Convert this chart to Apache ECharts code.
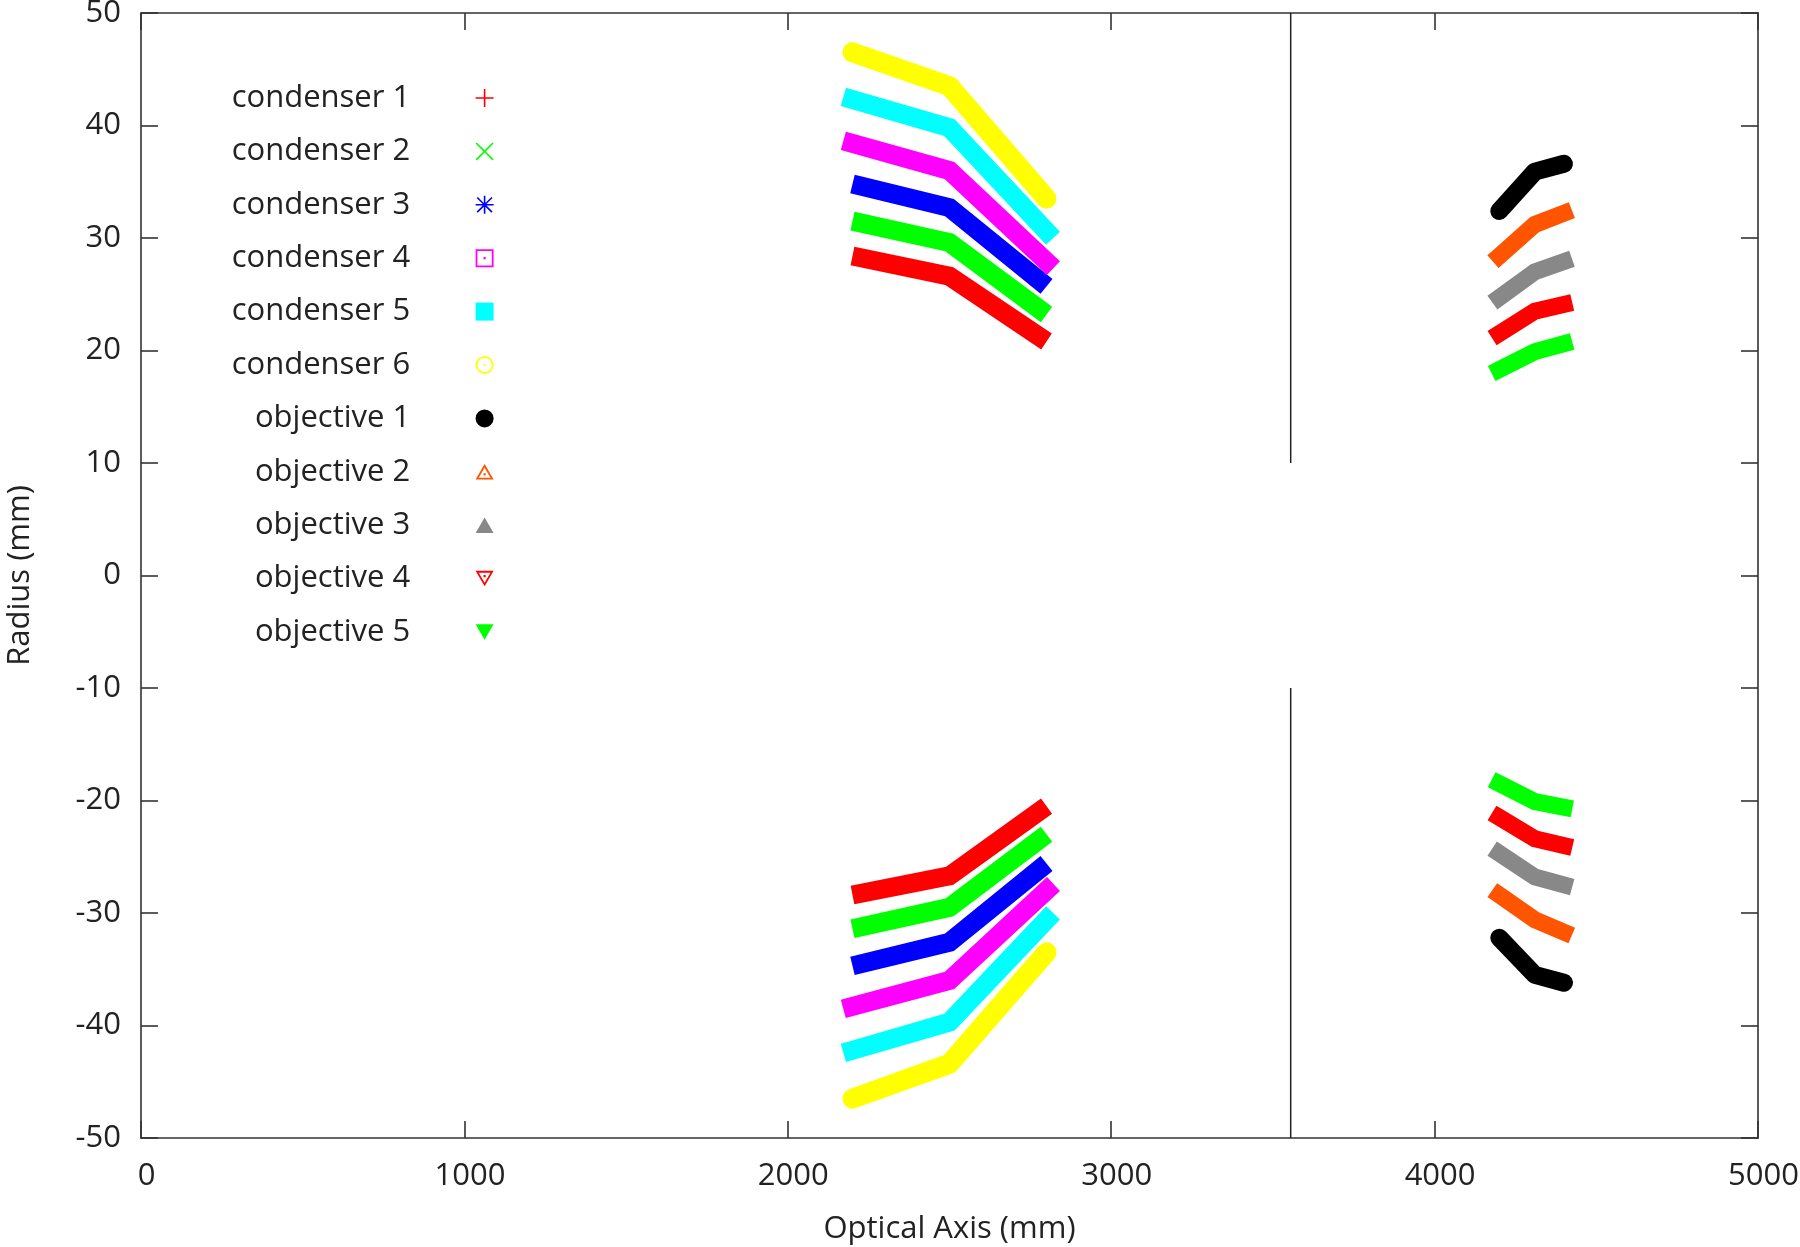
<!DOCTYPE html>
<html>
<head>
<meta charset="utf-8">
<script src="https://cdn.jsdelivr.net/npm/echarts@6/dist/echarts.min.js"></script>
<style>html,body{margin:0;padding:0;background:#fff}#c{width:1800px;height:1247px}</style>
</head>
<body>
<div id="c"></div>
<script>
// ---- data ----
const xCondenser = [2200, 2500, 2800];
const xObjective = [4200, 4310, 4400];

const condenser1Upper = [28.4, 26.6, 20.8];
const condenser1Lower = [-28.4, -26.7, -20.5];
const condenser2Upper = [31.5, 29.6, 23.2];
const condenser2Lower = [-31.4, -29.5, -23.0];
const condenser3Upper = [34.8, 32.7, 25.7];
const condenser3Lower = [-34.7, -32.6, -25.6];
const condenser4Upper = [38.4, 36.0, 27.9];
const condenser4Lower = [-38.3, -36.0, -28.0];
const condenser5Upper = [42.3, 39.8, 30.6];
const condenser5Lower = [-42.2, -39.7, -30.6];
const condenser6Upper = [46.5, 43.5, 33.5];
const condenser6Lower = [-46.5, -43.4, -33.5];

const objective1Upper = [32.4, 35.9, 36.6];
const objective1Lower = [-32.2, -35.5, -36.2];
const objective2Upper = [28.4, 31.2, 32.2];
const objective2Lower = [-28.4, -30.6, -31.7];
const objective3Upper = [24.7, 27.0, 27.9];
const objective3Lower = [-24.7, -26.8, -27.5];
const objective4Upper = [21.5, 23.5, 24.1];
const objective4Lower = [-21.5, -23.4, -24.0];
const objective5Upper = [18.3, 19.9, 20.6];
const objective5Lower = [-18.5, -20.1, -20.6];

// aperture stop (vertical line)
const stopX = [3555, 3555];
const stopUpperY = [50, 10];
const stopLowerY = [-10, -50];

const seriesNames = ['condenser 1','condenser 2','condenser 3','condenser 4','condenser 5','condenser 6',
  'objective 1','objective 2','objective 3','objective 4','objective 5'];
const xTicks = [0, 1000, 2000, 3000, 4000, 5000];
const yTicks = [-50, -40, -30, -20, -10, 0, 10, 20, 30, 40, 50];

// ---- styles ----
const FONT = 'Open Sans';
const FS = 31;
const colors = ['#ff0000','#00ff00','#0000ff','#ff00ff','#00ffff','#ffff00',
  '#000000','#ff5500','#888888','#ff0000','#00ff00'];
const caps = ['butt','butt','butt','square','square','round','round','square','square','square','square'];
const widths = [19,19,19,19,19,20,18,17,17,17,17];

const P = 'path://';
const micro = 'M0 -7L0.1 -7L0.1 -6.9ZM0 93L0.1 93L0.1 92.9Z';
const icons = [
  P + 'M45.5 0H54.5V45.5H100V54.5H54.5V100H45.5V54.5H0V45.5H45.5Z',
  P + 'M0 6.4L6.4 0L50 43.6L93.6 0L100 6.4L56.4 50L100 93.6L93.6 100L50 56.4L6.4 100L0 93.6L43.6 50Z',
  P + 'M45.5 0H54.5V45.5H100V54.5H54.5V100H45.5V54.5H0V45.5H45.5ZM6 12.4L12.4 6L50 43.6L87.6 6L94 12.4L56.4 50L94 87.6L87.6 94L50 56.4L12.4 94L6 87.6L43.6 50Z',
  P + 'M0 0H100V100H0ZM10 10V90H90V10ZM44 44H56V56H44Z',
  'rect',
  P + 'M0 50A50 50 0 0 1 100 50A50 50 0 0 1 0 50ZM10 50A40 40 0 0 0 90 50A40 40 0 0 0 10 50ZM44 50A6 6 0 0 1 56 50A6 6 0 0 1 44 50Z',
  'circle',
  P + 'M50 0L100 86L0 86ZM50 20L17.5 76L82.5 76ZM44 51H56V63H44Z' + micro,
  P + 'M50 0L100 86L0 86Z' + micro,
  P + 'M0 0L100 0L50 86ZM17.5 10L50 66L82.5 10ZM44 23H56V35H44Z' + micro,
  P + 'M0 0L100 0L50 86Z' + micro
];

const bands = [
  [xCondenser, condenser1Upper, condenser1Lower],
  [xCondenser, condenser2Upper, condenser2Lower],
  [xCondenser, condenser3Upper, condenser3Lower],
  [xCondenser, condenser4Upper, condenser4Lower],
  [xCondenser, condenser5Upper, condenser5Lower],
  [xCondenser, condenser6Upper, condenser6Lower],
  [xObjective, objective1Upper, objective1Lower],
  [xObjective, objective2Upper, objective2Lower],
  [xObjective, objective3Upper, objective3Lower],
  [xObjective, objective4Upper, objective4Lower],
  [xObjective, objective5Upper, objective5Lower]
];

function pairs(xs, ys) { return xs.map((x, i) => [x, ys[i]]); }

const series = [];
bands.forEach((b, i) => {
  [b[1], b[2]].forEach(ys => {
    series.push({
      type: 'line', name: seriesNames[i], data: pairs(b[0], ys),
      symbol: 'none', showSymbol: false, animation: false, silent: true,
      lineStyle: { color: colors[i], width: widths[i], cap: caps[i], join: caps[i] === 'round' ? 'round' : 'miter' },
      itemStyle: { color: colors[i] },
      z: 2 + i
    });
  });
});
[stopUpperY, stopLowerY].forEach(ys => {
  series.push({
    type: 'line', name: 'stop', data: pairs(stopX, ys), symbol: 'none', animation: false, silent: true,
    lineStyle: { color: '#222', width: 1.5 }, z: 1
  });
});

const axisColor = '#333';
const lineSt = { color: axisColor, width: 1.6 };
const fmt = v => String(v);
function xAx(pos, main) {
  return {
    type: 'value', position: pos, min: xTicks[0], max: xTicks[xTicks.length - 1], interval: 1000,
    axisLine: { show: true, onZero: false, lineStyle: lineSt },
    axisTick: { show: true, inside: true, length: 17, lineStyle: lineSt },
    axisLabel: { show: main, fontSize: FS, fontFamily: FONT, color: '#222', margin: 23, formatter: fmt, padding: [0, 0, 0, 11] },
    splitLine: { show: false },
    name: main ? 'Optical Axis (mm)' : '', nameLocation: 'middle', nameGap: 76,
    nameTextStyle: { fontSize: FS, fontFamily: FONT, color: '#222' }
  };
}
function yAx(pos, main) {
  return {
    type: 'value', position: pos, min: yTicks[0], max: yTicks[yTicks.length - 1], interval: 10,
    axisLine: { show: true, onZero: false, lineStyle: lineSt },
    axisTick: { show: true, inside: true, length: 17, lineStyle: lineSt },
    axisLabel: { show: main, fontSize: FS, fontFamily: FONT, color: '#222', margin: 20, formatter: fmt },
    splitLine: { show: false },
    name: main ? 'Radius (mm)' : '', nameLocation: 'middle', nameGap: 105,
    nameTextStyle: { fontSize: FS, fontFamily: FONT, color: '#222' }
  };
}

const chart = echarts.init(document.getElementById('c'), null, { renderer: 'canvas' });
chart.setOption({
  backgroundColor: '#ffffff',
  animation: false,
  grid: { left: 141, right: 42, top: 13, bottom: 109, containLabel: false, outerBoundsMode: 'none' },
  xAxis: [xAx('bottom', true), xAx('top', false)],
  yAxis: [yAx('left', true), yAx('right', false)],
  legend: {
    orient: 'vertical', left: 222.2, top: 76, itemWidth: 18, itemHeight: 18, itemGap: 19.4,
    align: 'right', selectedMode: false,
    itemStyle: { borderWidth: 0 },
    formatter: n => '{a|' + n + '}{b| }',
    textStyle: {
      fontSize: FS, lineHeight: 34, fontFamily: FONT,
      rich: {
        a: { width: 183, align: 'right', fontSize: FS, fontFamily: FONT, color: '#222', lineHeight: 34 },
        b: { width: 60.4, fontSize: FS, lineHeight: 34 }
      }
    },
    data: seriesNames.map((n, i) => ({ name: n, icon: icons[i], itemStyle: { color: colors[i], borderWidth: 0 } }))
  },
  series: series
});
</script>
</body>
</html>
